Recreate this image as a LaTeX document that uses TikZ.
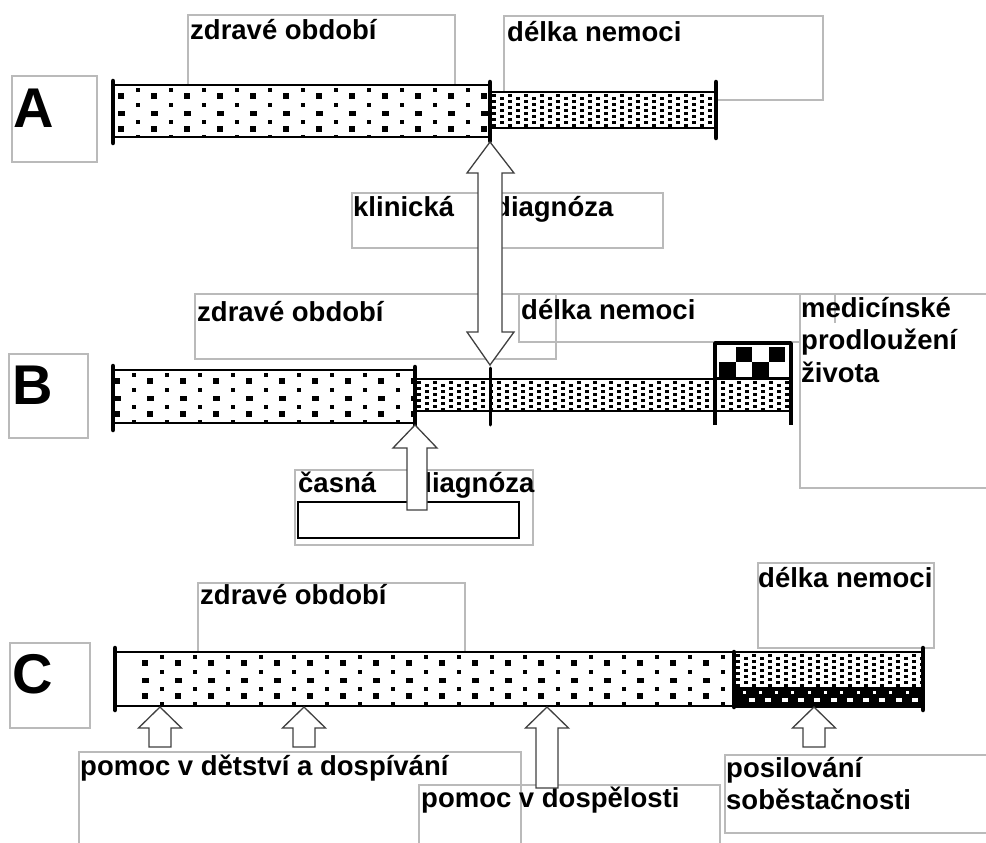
\documentclass[tikz,border=0pt]{standalone}
\usepackage{fontspec}
\setmainfont{Liberation Sans}

% sparse dot texture for the healthy period
\newcommand\healthyfill[5]{%
  \begin{scope}
    \clip (#1,#2) rectangle (#3,#4);
    \foreach \k in {0,...,20}{
      \pgfmathsetmacro\xb{#1+#5+33*\k}
      \pgfmathsetmacro\xs{\xb+16.5}
      \foreach \dy in {11,44}{\fill (\xb-3,#2+\dy-3) rectangle ++(6,6);}
      \fill (\xb-3.5,#2+28-2.5) rectangle ++(7,5);
      \foreach \dy in {5,20,37,52}{\fill (\xs-2,#2+\dy-2) rectangle ++(4,4);}
    }
  \end{scope}}

% dense dot texture for the illness period
\newcommand\sickfill[4]{%
  \begin{scope}
    \clip (#1,#2) rectangle (#3,#4);
    \foreach \k in {0,...,60}{
      \pgfmathsetmacro\xc{#1+4+8*\k}
      \pgfmathsetmacro\off{mod(\k,2)*3}
      \foreach \j in {0,...,7}{\fill (\xc-1.7,#2+2+\off+6*\j) rectangle ++(3.4,3.4);}
    }
  \end{scope}}

\begin{document}
\begin{tikzpicture}[x=1pt,y=-1pt,
  lbl/.style={anchor=base west,inner sep=0pt,font=\fontsize{27.5}{32}\selectfont\bfseries},
  letter/.style={anchor=base west,inner sep=0pt,font=\fontsize{56}{60}\selectfont\bfseries},
  frame/.style={draw=black!27,line width=1.1pt},
  bar/.style={draw=black,line width=2pt,fill=white},
  endmark/.style={line width=4.5pt,line cap=round},
  tick/.style={line width=3pt,line cap=round},
  blockarrow/.style={draw=black!75,line width=1.3pt,fill=white,line join=miter}]
\useasboundingbox (0,0) rectangle (986,843);
\clip (0,0) rectangle (986,843);

% ---------- label frames ----------
\draw[frame] (12,76) rectangle (97,162);
\draw[frame] (188,15) rectangle (455,90);
\draw[frame] (504,16) rectangle (823,100);
\draw[frame] (352,193) rectangle (663,248);

\draw[frame] (9,354) rectangle (88,438);
\draw[frame] (195,294) rectangle (556,359);
\draw[frame] (519,294) rectangle (800,342);
\draw[frame] (835,294) -- (835,323);
\draw[frame] (800,294) rectangle (995,488);
\draw[frame] (295,470) rectangle (533,545);
\draw[line width=1.5pt] (298,502) rectangle (519,538);

\draw[frame] (10,643) rectangle (90,728);
\draw[frame] (198,583) rectangle (465,660);
\draw[frame] (758,563) rectangle (934,648);
\draw[frame] (79,752) rectangle (521,860);
\draw[frame] (419,785) rectangle (720,860);
\draw[frame] (725,755) rectangle (995,833);

% ---------- texts ----------
\node[letter] (la) at (13,128) {A};
\node[letter] (lb) at (12,404) {B};
\node[letter] (lc) at (12,693) {C};

\node[lbl] (az) at (190,40) {zdravé období};
\node[lbl] (ad) at (507,42) {délka nemoci};
\node[lbl] (kl) at (353,216) {klinická};
\node[lbl] (kd) at (494,216) {diagnóza};

\node[lbl] (bz) at (197,321) {zdravé období};
\node[lbl] (bd) at (521,319) {délka nemoci};
\node[lbl] (m1) at (801,317) {medicínské};
\node[lbl] (m2) at (801,349) {prodloužení};
\node[lbl] (m3) at (801,382) {života};
\node[lbl] (cs) at (298,492) {časná};
\node[lbl] (cd) at (415,492) {diagnóza};

\node[lbl] (cz) at (200,604) {zdravé období};
\node[lbl] (cdl) at (758,587) {délka nemoci};
\node[lbl] (p1) at (80,775) {pomoc v dětství a dospívání};
\node[lbl] (p2) at (421,807) {pomoc v dospělosti};
\node[lbl] (s1) at (726,777) {posilování};
\node[lbl] (s2) at (726,809) {soběstačnosti};

% ---------- timeline A ----------
\draw[bar] (113,85) rectangle (490,137);
\healthyfill{113}{85}{490}{137}{8}
\draw[bar] (490,92) rectangle (716,128);
\sickfill{490}{92}{716}{128}
\draw[endmark] (113,81) -- (113,143);
\draw[endmark] (490,82) -- (490,141);
\draw[endmark] (716,82) -- (716,138);

% ---------- timeline B ----------
\draw[bar] (113,370) rectangle (415,423);
\healthyfill{113}{370}{415}{423}{4}
\draw[bar] (415,379) rectangle (791,411);
\sickfill{415}{379}{791}{411}
\draw[endmark] (113,366) -- (113,430);
\draw[endmark] (415,367) -- (415,428);
\draw[tick] (490,368) -- (490,425);
% checkered extension of life
\fill[white] (715,343) rectangle (791,379);
\foreach \c/\r in {1/0,3/0,0/1,2/1}{
  \fill (719+16.5*\c,347+15*\r) rectangle ++(16.5,15);
}
\draw[line width=3.5pt,line join=round] (715,425) -- (715,343) -- (791,343) -- (791,425);
\draw[line width=1.5pt] (715,378) -- (791,378);

% ---------- timeline C ----------
\draw[bar] (115,652) rectangle (734,706);
\healthyfill{115}{652}{734}{706}{30}
\draw[bar] (734,652) rectangle (923,707);
\sickfill{734}{652}{923}{687}
\fill (734,687) rectangle (923,707);
\foreach \k in {0,...,11}{
  \fill[white] (744+16.3*\k-1.5,692-1.5) rectangle ++(3,3);
  \fill[white] (752+16.3*\k-3,700-2) rectangle ++(6,4);
}
\draw[endmark] (115,648) -- (115,710);
\draw[endmark] (734,652) -- (734,707);
\draw[endmark] (923,648) -- (923,710);

% ---------- block arrows ----------
% clinical diagnosis (double-headed)
\coordinate (dtop) at (490,142);
\coordinate (dbot) at (490,365);
\draw[blockarrow] (dtop) -- (514,173) -- (502,173) -- (502,332) -- (514,332)
  -- (dbot) -- (467,332) -- (478,332) -- (478,173) -- (467,173) -- cycle;

% early diagnosis
\coordinate (etip) at (415,425);
\draw[blockarrow] (etip) -- (437,448) -- (427,448) -- (427,510) -- (407,510)
  -- (407,448) -- (393,448) -- cycle;

% support arrows under timeline C
\foreach \cx/\bot in {160/747,304/747,547/788,814/747}{
  \coordinate (tip\cx) at (\cx,707);
  \draw[blockarrow] (tip\cx) -- (\cx+21.5,728) -- (\cx+11,728) -- (\cx+11,\bot)
    -- (\cx-11,\bot) -- (\cx-11,728) -- (\cx-21.5,728) -- cycle;
}
\end{tikzpicture}
\end{document}
